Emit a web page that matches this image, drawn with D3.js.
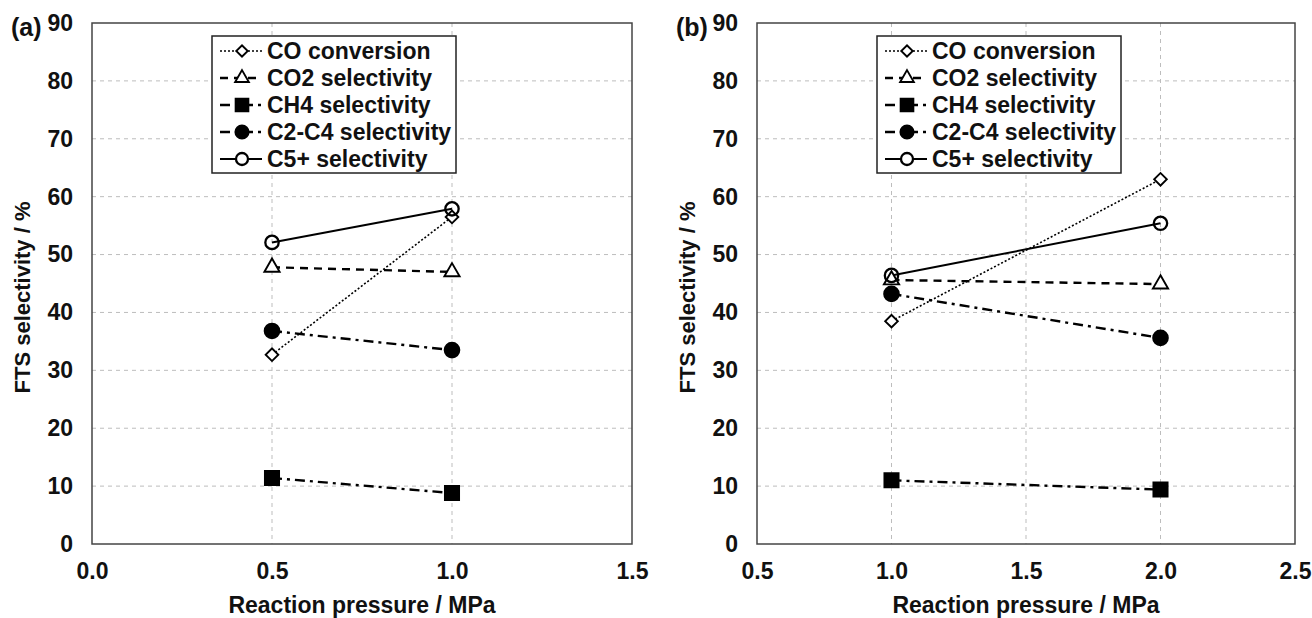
<!DOCTYPE html>
<html>
<head>
<meta charset="utf-8">
<script src="https://cdn.jsdelivr.net/npm/d3@7"></script>
<style>
  html, body { margin: 0; padding: 0; background: #fff; }
  svg { display: block; }
  text { font-family: "Liberation Sans", Arial, sans-serif; font-weight: bold; fill: #111; }
</style>
</head>
<body>
<svg id="chart" width="1312" height="618"></svg>
<script>
// ---- data -------------------------------------------------------------
const seriesNames = ["CO conversion", "CO2 selectivity", "CH4 selectivity", "C2-C4 selectivity", "C5+ selectivity"];

// panel (a)
const pressureA = [0.5, 1.0];
const coConvA  = [32.7, 56.5];
const co2A     = [47.8, 47.0];
const ch4A     = [11.4, 8.8];
const c2c4A    = [36.8, 33.5];
const c5A      = [52.1, 57.9];
const xTicksA  = [0.0, 0.5, 1.0, 1.5];

// panel (b)
const pressureB = [1.0, 2.0];
const coConvB  = [38.5, 63.0];
const co2B     = [45.6, 44.9];
const ch4B     = [11.0, 9.4];
const c2c4B    = [43.2, 35.6];
const c5B      = [46.4, 55.4];
const xTicksB  = [0.5, 1.0, 1.5, 2.0, 2.5];

const yTicks = [0, 10, 20, 30, 40, 50, 60, 70, 80, 90];

// ---- styles per series ----------------------------------------------
const styles = [
  { dash: "2 2",        width: 1.6, symbol: "diamond",  fill: "#fff" },
  { dash: "8 6",        width: 2.4, symbol: "triangle", fill: "#fff" },
  { dash: "10 5 3 5",   width: 2.4, symbol: "square",   fill: "#000" },
  { dash: "10 5 3 5",   width: 2.4, symbol: "circle",   fill: "#000" },
  { dash: null,         width: 2.0, symbol: "ocircle",  fill: "none" }
];

const FONT = "Liberation Sans, Arial, sans-serif";
const svg = d3.select("#chart");

function marker(parent, kind, fill, x, y, scale = 1) {
  const sizes = { diamond: 80, triangle: 100, square: 200, circle: 170, ocircle: 140 };
  const types = { diamond: d3.symbolSquare, triangle: d3.symbolTriangle, square: d3.symbolSquare,
                  circle: d3.symbolCircle, ocircle: d3.symbolCircle };
  parent.append("path")
    .attr("d", d3.symbol(types[kind], sizes[kind] * scale * scale)())
    .attr("transform", `translate(${x},${y})` + (kind === "diamond" ? " rotate(45)" : ""))
    .attr("fill", fill).attr("stroke", "#000")
    .attr("stroke-width", kind === "ocircle" ? 2.3 : 1.9);
}

function panel(opt) {
  const { left, right, top, bottom, xDomain, xTicks, xs, series, tag, legendX } = opt;
  const x = d3.scaleLinear().domain(xDomain).range([left, right]);
  const y = d3.scaleLinear().domain([0, 90]).range([bottom, top]);
  const g = svg.append("g");

  // grid
  g.append("g").selectAll("line").data(yTicks.slice(1, -1)).join("line")
    .attr("x1", left).attr("x2", right)
    .attr("y1", d => y(d)).attr("y2", d => y(d))
    .attr("stroke", "#bdbdbd").attr("stroke-width", 1).attr("stroke-dasharray", "4 4");
  g.append("g").selectAll("line").data(xTicks.slice(1, -1)).join("line")
    .attr("x1", d => x(d)).attr("x2", d => x(d))
    .attr("y1", top).attr("y2", bottom)
    .attr("stroke", "#bdbdbd").attr("stroke-width", 1).attr("stroke-dasharray", "4 4");

  // frame
  g.append("rect").attr("x", left).attr("y", top)
    .attr("width", right - left).attr("height", bottom - top)
    .attr("fill", "none").attr("stroke", "#444").attr("stroke-width", 1.5);

  // axes (labels only)
  const yAxis = d3.axisLeft(y).tickValues(yTicks).tickSize(0).tickPadding(19).tickFormat(d3.format("d"));
  const ya = g.append("g").attr("transform", `translate(${left},0)`).call(yAxis);
  ya.select(".domain").remove();
  ya.selectAll("text").attr("font-size", 23).attr("font-family", FONT).attr("font-weight", "bold").attr("fill", "#111");

  const xAxis = d3.axisBottom(x).tickValues(xTicks).tickSize(0).tickPadding(19).tickFormat(d3.format(".1f"));
  const xa = g.append("g").attr("transform", `translate(0,${bottom})`).call(xAxis);
  xa.select(".domain").remove();
  xa.selectAll("text").attr("font-size", 23).attr("font-family", FONT).attr("font-weight", "bold").attr("fill", "#111");

  // titles
  g.append("text").attr("x", (left + right) / 2).attr("y", 613)
    .attr("text-anchor", "middle").attr("font-size", 23).text("Reaction pressure / MPa");
  g.append("text")
    .attr("transform", `translate(${left - 62},${(top + bottom) / 2 + 14}) rotate(-90)`)
    .attr("text-anchor", "middle").attr("font-size", 22).text("FTS selectivity / %");
  g.append("text").attr("x", left - 81).attr("y", 36).attr("font-size", 25).text(tag);

  // lines
  const line = d3.line().x(d => x(d[0])).y(d => y(d[1]));
  series.forEach((vals, i) => {
    const st = styles[i];
    g.append("path").datum(xs.map((p, k) => [p, vals[k]]))
      .attr("d", line).attr("fill", "none").attr("stroke", "#000")
      .attr("stroke-width", st.width)
      .attr("stroke-dasharray", st.dash);
  });
  // markers
  series.forEach((vals, i) => {
    const st = styles[i];
    xs.forEach((p, k) => marker(g, st.symbol, st.fill, x(p), y(vals[k])));
  });

  // legend
  const lg = g.append("g").attr("transform", `translate(${legendX},36)`);
  lg.append("rect").attr("x", 0).attr("y", 0).attr("width", 244).attr("height", 137)
    .attr("fill", "#fff").attr("stroke", "#222").attr("stroke-width", 1.5);
  seriesNames.forEach((name, i) => {
    const st = styles[i];
    const cy = 15 + i * 27;
    lg.append("line").attr("x1", 8).attr("x2", 50).attr("y1", cy).attr("y2", cy)
      .attr("stroke", "#000").attr("stroke-width", st.width)
      .attr("stroke-dasharray", st.dash);
    marker(lg, st.symbol, st.fill === "none" ? "#fff" : st.fill, 30, cy, 0.9);
    lg.append("text").attr("x", 55).attr("y", cy).attr("dy", "0.36em")
      .attr("font-size", 23).text(name);
  });
}

panel({
  left: 92, right: 632, top: 23, bottom: 544,
  xDomain: [0, 1.5], xTicks: xTicksA, xs: pressureA,
  series: [coConvA, co2A, ch4A, c2c4A, c5A], tag: "(a)", legendX: 212
});
panel({
  left: 757, right: 1295, top: 23, bottom: 544,
  xDomain: [0.5, 2.5], xTicks: xTicksB, xs: pressureB,
  series: [coConvB, co2B, ch4B, c2c4B, c5B], tag: "(b)", legendX: 877
});
</script>
</body>
</html>
